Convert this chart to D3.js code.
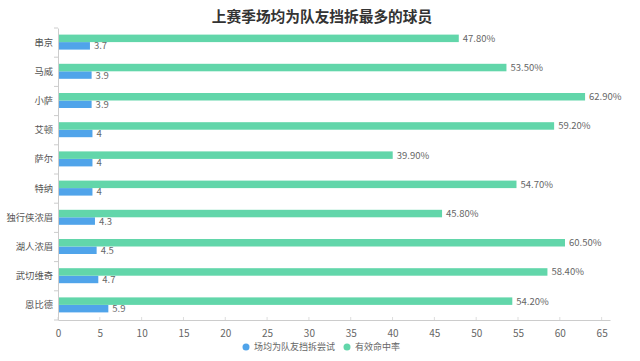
<!DOCTYPE html>
<html><head><meta charset="utf-8">
<script src="https://cdn.jsdelivr.net/npm/d3@7"></script>
<style>body{margin:0;background:#fff;} text{font-family:"Noto Sans CJK SC","Noto Sans",sans-serif;}</style>
</head><body><svg id="c" width="640" height="361"></svg>
<script>
const title = "上赛季场均为队友挡拆最多的球员";
const categories = ["串京","马威","小萨","艾顿","萨尔","特纳","独行侠浓眉","湖人浓眉","武切维奇","恩比德"];
const attempts = [3.7,3.9,3.9,4,4,4,4.3,4.5,4.7,5.9];
const efficiency = [47.8,53.5,62.9,59.2,39.9,54.7,45.8,60.5,58.4,54.2];
const seriesNames = ["场均为队友挡拆尝试","有效命中率"];
const xTicks = [0,5,10,15,20,25,30,35,40,45,50,55,60,65];
const colors = ["#50a4ea","#62d6aa"];

const svg = d3.select("#c");
const m = {l:58, r:30, t:28, b:41};
const W = 640, H = 361;
const x = d3.scaleLinear().domain([0,66]).range([m.l, W-m.r]);
const y = d3.scaleBand().domain(categories).range([m.t, H-m.b]);
const inner = d3.scaleBand().domain([1,0]).range([y.bandwidth()/2-8, y.bandwidth()/2+7]).paddingInner(0);

svg.append("text").attr("x",322).attr("y",22).attr("text-anchor","middle")
  .attr("font-size",14.7).attr("font-weight","bold").attr("fill","#333").text(title);

// x axis
const xa = svg.append("g").attr("transform",`translate(0,${H-m.b})`)
  .call(d3.axisBottom(x).tickValues(xTicks).tickSize(0).tickPadding(10));
xa.select(".domain").attr("stroke","#ccc");
xa.selectAll("text").attr("fill","#666").attr("font-size",10);
svg.append("g").selectAll("line").data(xTicks).join("line")
  .attr("x1",d=>x(d)).attr("x2",d=>x(d)).attr("y1",H-m.b).attr("y2",H-m.b-3).attr("stroke","#ddd");

// y axis
const ya = svg.append("g").attr("transform",`translate(${m.l},0)`)
  .call(d3.axisLeft(y).tickSize(0).tickPadding(5));
ya.select(".domain").attr("stroke","#ccc");
ya.selectAll("text").attr("fill","#555").attr("font-size",9.3);
svg.append("g").selectAll("line").data(d3.range(categories.length+1)).join("line")
  .attr("x1",m.l-4).attr("x2",m.l).attr("y1",i=>m.t+i*y.step()).attr("y2",i=>m.t+i*y.step()).attr("stroke","#ccc");

const series = [attempts, efficiency];
series.forEach((vals,si)=>{
  const g = svg.append("g");
  g.selectAll("rect").data(vals).join("rect")
    .attr("x",x(0)+1).attr("y",(d,i)=>y(categories[i])+inner(si))
    .attr("width",d=>x(d)-x(0)).attr("height",inner.bandwidth())
    .attr("fill",colors[si]);
  g.selectAll("text").data(vals).join("text")
    .attr("x",d=>x(d)+5).attr("y",(d,i)=>y(categories[i])+inner(si)+inner.bandwidth()/2+3.5)
    .attr("font-size",9.5).attr("fill","#666")
    .text(d=> si===0 ? String(d) : d.toFixed(2)+"%");
});

// legend
const leg = svg.append("g").attr("transform","translate(0,347)");
const items = [{x:246},{x:347}];
items.forEach((it,i)=>{
  leg.append("circle").attr("cx",it.x).attr("cy",0).attr("r",3.5).attr("fill",colors[i]);
  leg.append("text").attr("x",it.x+8).attr("y",3.2).attr("font-size",9).attr("fill","#666").text(seriesNames[i]);
});
</script></body></html>
